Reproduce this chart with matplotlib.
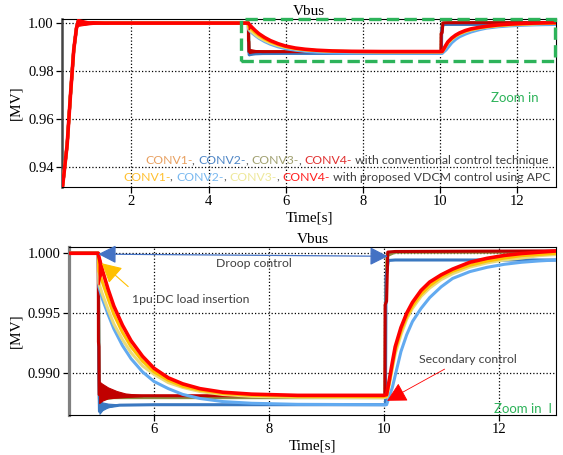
import matplotlib
matplotlib.use('Agg')
import matplotlib.pyplot as plt
from matplotlib.patches import Rectangle

# ---- data (time [s], Vbus [MV]) ----
t_startup = [0.20, 0.25, 0.334, 0.42, 0.505, 0.575, 0.62, 0.70, 0.80, 1.0, 1.3, 1.6, 2.0]
v_startup = [0.9300, 0.9370, 0.9494, 0.9701, 0.9889, 0.9979, 1.0008, 1.0004, 0.9998, 1.0001, 1.0000, 1.0000, 1.0000]

# conventional control
t_conv1 = [5.03, 5.04, 5.05, 5.3, 10.025, 10.03, 10.06, 10.2, 13.0]
v_conv1 = [1.0, 0.9921, 0.9879, 0.98800, 0.98800, 0.9958, 0.9999, 1.00012, 1.00012]
t_conv2 = [5.03, 5.04, 5.05, 5.15, 5.4, 6.0, 10.03, 10.04, 10.08, 10.2, 13.0]
v_conv2 = [1.0, 0.9900, 0.9868, 0.98715, 0.98732, 0.98736, 0.98736, 0.9980, 0.9994, 0.99944, 0.99944]
t_conv3 = [5.03, 5.04, 5.05, 5.3, 10.025, 10.03, 10.06, 10.2, 13.0]
v_conv3 = [1.0, 0.9920, 0.9878, 0.98795, 0.98795, 0.9957, 0.9998, 1.0001, 1.0001]
t_conv4 = [5.03, 5.032, 5.04, 5.045, 5.3, 10.02, 10.025, 10.05, 10.07, 10.2, 13.0]
v_conv4 = [1.0, 0.9926, 0.9922, 0.9882, 0.98811, 0.98811, 0.9957, 0.9960, 1.0001, 1.00015, 1.0002]

# proposed VDCM control (shared sample times)
t_prop = [5.03, 5.04, 5.1, 5.2, 5.3, 5.45, 5.6, 5.8, 6.0, 6.25, 6.5, 6.8, 7.2, 7.7, 8.5, 10.0,
          10.05, 10.1, 10.15, 10.2, 10.3, 10.4, 10.5, 10.65, 10.8, 11.0, 11.2, 11.5, 11.8, 12.1, 12.4, 12.7, 13.0]
v_prop1 = [1.0, 0.9985, 0.9976, 0.9962, 0.9949, 0.9934, 0.9922, 0.9910, 0.9901, 0.9894, 0.9889, 0.98858, 0.98830, 0.98815, 0.98806, 0.98804,
           0.98808, 0.9893, 0.9906, 0.9919, 0.9935, 0.9947, 0.9956, 0.9966, 0.9973, 0.9980, 0.9985, 0.9990, 0.99935, 0.9996, 0.9998, 0.9999, 1.0000]
v_prop2 = [1.0, 0.9972, 0.9962, 0.9949, 0.9937, 0.9923, 0.9912, 0.9901, 0.9893, 0.9887, 0.98822, 0.98788, 0.98762, 0.98748, 0.98739, 0.98736,
           0.98736, 0.9881, 0.9888, 0.9898, 0.9918, 0.9932, 0.9943, 0.9954, 0.9963, 0.9972, 0.99790, 0.99847, 0.99883, 0.99908, 0.99925, 0.99936, 0.99944]
v_prop3 = [1.0, 0.9975, 0.9966, 0.9953, 0.9941, 0.9928, 0.9917, 0.9906, 0.9899, 0.9892, 0.9888, 0.98846, 0.98821, 0.98806, 0.98798, 0.98795,
           0.98800, 0.9891, 0.9904, 0.9916, 0.9932, 0.9945, 0.9954, 0.9964, 0.9971, 0.9978, 0.9983, 0.99885, 0.9992, 0.99945, 0.9996, 0.9998, 0.9999]
v_prop4 = [1.0, 0.9997, 0.9986, 0.9970, 0.9956, 0.9940, 0.9927, 0.9914, 0.9904, 0.9896, 0.9891, 0.9887, 0.9884, 0.98824, 0.98814, 0.98814,
           0.98820, 0.9895, 0.9909, 0.9922, 0.9938, 0.9950, 0.9959, 0.9969, 0.9976, 0.9982, 0.99868, 0.99925, 0.99958, 0.99982, 0.99998, 1.00009, 1.00019]

# oscillation envelopes (upper / lower)
band_start_t = [0.60, 0.75, 0.90, 1.10, 1.40]
band_start_hi = [1.0018, 1.0012, 1.0007, 1.0003, 1.0001]
band_start_lo = [0.9988, 0.9992, 0.9995, 0.9998, 0.9999]
band_conv4_t = [5.045, 5.1, 5.2, 5.35, 5.5, 5.8]
band_conv4_hi = [0.9893, 0.9891, 0.9888, 0.9885, 0.9883, 0.98815]
band_conv4_lo = [0.9875, 0.9877, 0.9879, 0.98795, 0.9880, 0.98808]
band_conv2_t = [5.05, 5.1, 5.2, 5.35]
band_conv2_hi = [0.9877, 0.98755, 0.98745, 0.9874]
band_conv2_lo = [0.9866, 0.9869, 0.98715, 0.98732]
band_prop4_t = [5.035, 5.06, 5.1]
band_prop4_hi = [0.9999, 0.9995, 0.9988]
band_prop4_lo = [0.9974, 0.9980, 0.9984]

# colours
c_conv = ['#E8A060', '#3A78C0', '#8C8C40', '#C00000']
c_prop = ['#FFC000', '#62AAF0', '#EADB78', '#FF0000']
txt_conv = ['#E8A060', '#4F86C6', '#A0A070', '#E03030']
txt_prop = ['#FFC030', '#78B8F0', '#EEE89A', '#FF2020']
green = '#2DB35A'

serif = 'Liberation Serif'
sans = 'Lato'

fig = plt.figure(figsize=(5.63, 4.55), dpi=100)
ax1 = fig.add_axes([0.1101, 0.589, 0.8775, 0.3692])
ax2 = fig.add_axes([0.1226, 0.0879, 0.865, 0.3686])


def draw_curves(ax):
    conv = [(t_conv1, v_conv1), (t_conv2, v_conv2), (t_conv3, v_conv3), (t_conv4, v_conv4)]
    for i in [0, 2, 1, 3]:
        t, v = conv[i]
        ax.plot(t_startup + t, v_startup + v, color=c_conv[i], lw=2.2, zorder=3)
    ax.fill_between(band_conv2_t, band_conv2_lo, band_conv2_hi, color=c_conv[1], lw=0.8, zorder=3)
    ax.fill_between(band_conv4_t, band_conv4_lo, band_conv4_hi, color=c_conv[3], lw=0.8, zorder=3)
    props = [v_prop1, v_prop2, v_prop3, v_prop4]
    for i in [1, 2, 0, 3]:
        ax.plot(t_startup + t_prop, v_startup + props[i], color=c_prop[i],
                lw=2.6 if i == 3 else 2.2, zorder=4)
    ax.fill_between(band_prop4_t, band_prop4_lo, band_prop4_hi, color=c_prop[3], lw=0.8, zorder=4)
    ax.fill_between(band_start_t, band_start_lo, band_start_hi, color=c_prop[3], lw=0.8, zorder=4)


def style(ax):
    ax.grid(True, color='black', ls=':', lw=0.9)
    ax.set_axisbelow(True)
    for lab in ax.get_xticklabels() + ax.get_yticklabels():
        lab.set_fontfamily(serif)
        lab.set_fontsize(10.5)
    ax.tick_params(direction='out', length=4, width=0.9, colors='black', pad=2)
    ax.set_xlabel('Time[s]', fontfamily=serif, fontsize=11, labelpad=2)
    ax.set_ylabel('[MV]', fontfamily=serif, fontsize=11, labelpad=4)
    ax.set_title('Vbus', fontfamily=serif, fontsize=11, pad=3)


def colored_line(ax, x, y, parts, size):
    prev = None
    for s, c in reversed(parts):
        if prev is None:
            prev = ax.text(x, y, s, color=c, ha='right', va='bottom', transform=ax.transAxes,
                           fontfamily=sans, fontsize=size, zorder=6)
        else:
            prev = ax.annotate(s, xy=(0, 0), xycoords=prev, ha='right', va='bottom', color=c,
                               fontfamily=sans, fontsize=size, zorder=6)


# ---------- top panel ----------
draw_curves(ax1)
ax1.set_xlim(0.2, 13.0)
ax1.set_ylim(0.9317, 1.0017)
ax1.set_xticks([2, 4, 6, 8, 10, 12])
ax1.set_yticks([0.94, 0.96, 0.98, 1.00])
ax1.set_yticklabels(['0.94', '0.96', '0.98', '1.00'])
style(ax1)
ax1.spines['left'].set_linewidth(1.8)
ax1.spines['left'].set_color('#444444')

ax1.add_patch(Rectangle((4.85, 0.9843), 8.13, 0.0176, fill=False, ls='--', lw=2.4,
                        ec=green, clip_on=False, zorder=5))
ax1.text(11.92, 0.9689, 'Zoom in', color=green, fontfamily=sans, fontsize=9.5,
         ha='center', va='center')

gray = '#404040'
line1 = [('CONV1-', txt_conv[0]), (', ', gray), ('CONV2-', txt_conv[1]), (', ', gray),
         ('CONV3-', txt_conv[2]), (', ', gray), ('CONV4-', txt_conv[3]),
         (' with conventional control technique', gray)]
line2 = [('CONV1-', txt_prop[0]), (', ', gray), ('CONV2-', txt_prop[1]), (', ', gray),
         ('CONV3-', txt_prop[2]), (', ', gray), ('CONV4-', txt_prop[3]),
         (' with proposed VDCM control using APC', gray)]
colored_line(ax1, 0.985, 0.125, line1, 8.8)
colored_line(ax1, 0.989, 0.025, line2, 8.8)

# ---------- bottom panel ----------
draw_curves(ax2)
ax2.set_xlim(4.52, 13.0)
ax2.set_ylim(0.9865, 1.0005)
ax2.set_xticks([6, 8, 10, 12])
ax2.set_yticks([0.990, 0.995, 1.000])
ax2.set_yticklabels(['0.990', '0.995', '1.000'])
style(ax2)
ax2.spines['left'].set_linewidth(2.3)
ax2.spines['left'].set_color('#808080')

ax2.annotate('', xy=(5.03, 0.99993), xytext=(10.07, 0.99975),
             arrowprops=dict(arrowstyle='<|-|>,head_length=0.55,head_width=0.28',
                             mutation_scale=20, color='#4472C4', lw=0.9,
                             shrinkA=0, shrinkB=0), zorder=6)
ax2.text(7.74, 0.99911, 'Droop control', color='#404040', fontfamily=sans, fontsize=8.8,
         ha='center', va='center')

ax2.annotate('', xy=(5.09, 0.99917), xytext=(5.55, 0.99722),
             arrowprops=dict(arrowstyle='-|>,head_length=0.6,head_width=0.32',
                             mutation_scale=20, color='#FFC000', lw=0.8,
                             shrinkA=0, shrinkB=0), zorder=6)
ax2.text(6.64, 0.99611, '1pu DC load insertion', color='#404040', fontfamily=sans,
         fontsize=8.8, ha='center', va='center')

ax2.annotate('', xy=(10.06, 0.98769), xytext=(11.06, 0.99033),
             arrowprops=dict(arrowstyle='-|>,head_length=0.6,head_width=0.32',
                             mutation_scale=20, color='#FF0000', lw=0.6,
                             shrinkA=0, shrinkB=0), zorder=6)
ax2.text(11.47, 0.99111, 'Secondary control', color='#404040', fontfamily=sans,
         fontsize=8.8, ha='center', va='center')

ax2.text(12.93, 0.98703, 'Zoom in  I', color=green, fontfamily=sans, fontsize=9.5,
         ha='right', va='center')

fig.savefig('out.png', dpi=100)
